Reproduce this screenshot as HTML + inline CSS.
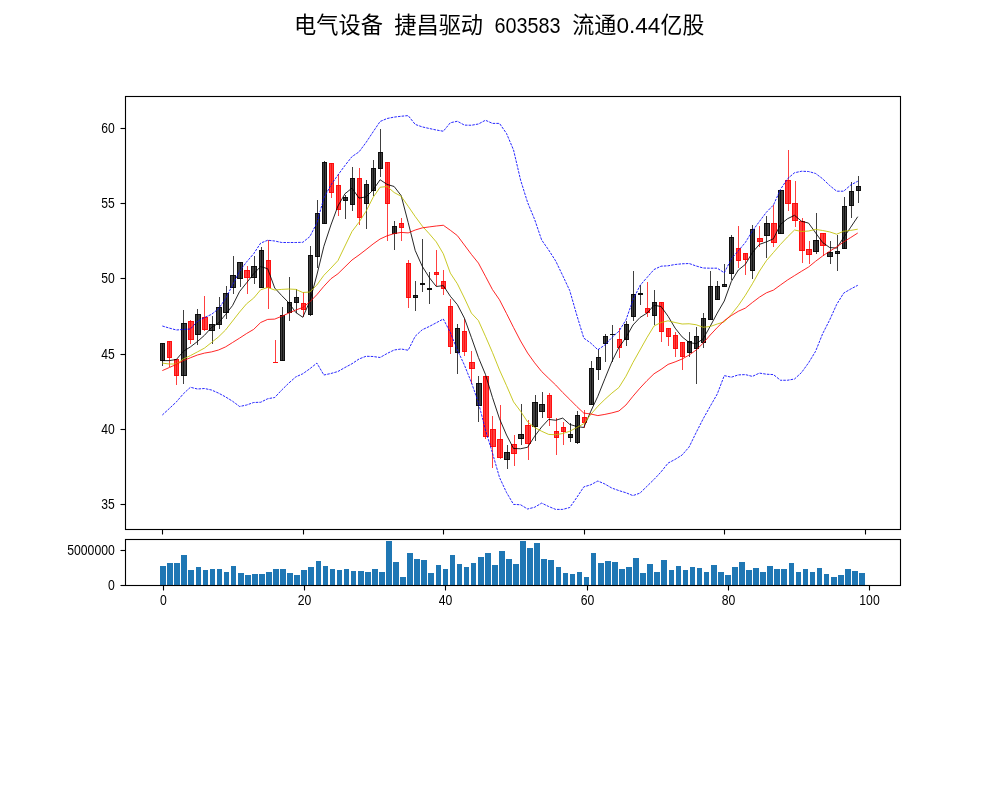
<!DOCTYPE html>
<html lang="zh"><head><meta charset="utf-8"><title>电气设备 捷昌驱动 603583</title>
<style>html,body{margin:0;padding:0;background:#fff}body{width:1000px;height:800px;overflow:hidden}svg{display:block}.t{font-family:"Liberation Sans","Noto Sans CJK SC",sans-serif;fill:#000}.tk{font-size:14.7px}.ti{font-size:22.2px}.ln{fill:none;stroke-width:0.85;stroke-linejoin:round}.ax{stroke:#000;stroke-width:1.11;fill:none}</style></head><body>
<svg width="1000" height="800" viewBox="0 0 1000 800">
<rect width="1000" height="800" fill="#fff"/>
<text class="t ti" x="294.0" y="33.4" textLength="88.9" lengthAdjust="spacingAndGlyphs">电气设备</text>
<text class="t ti" x="394.2" y="33.4" textLength="88.9" lengthAdjust="spacingAndGlyphs">捷昌驱动</text>
<text class="t ti" x="494.4" y="33.4" textLength="66.2" lengthAdjust="spacingAndGlyphs">603583</text>
<text class="t ti" x="572.2" y="33.4" textLength="44.2" lengthAdjust="spacingAndGlyphs">流通</text>
<text class="t ti" x="616.4" y="33.4" textLength="44.0" lengthAdjust="spacingAndGlyphs">0.44</text>
<text class="t ti" x="660.6" y="33.4" textLength="43.8" lengthAdjust="spacingAndGlyphs">亿股</text>
<g id="candles" shape-rendering="crispEdges">
<g fill="#000" fill-opacity=".75"><rect x="162" y="343" width="1" height="23"/><rect x="183" y="310" width="1" height="74"/><rect x="197" y="309" width="1" height="36"/><rect x="212" y="316" width="1" height="28"/><rect x="219" y="297" width="1" height="32"/><rect x="226" y="286" width="1" height="33"/><rect x="233" y="256" width="1" height="38"/><rect x="240" y="262" width="1" height="25"/><rect x="254" y="256" width="1" height="28"/><rect x="261" y="247" width="1" height="41"/><rect x="282" y="307" width="1" height="54"/><rect x="289" y="277" width="1" height="44"/><rect x="296" y="289" width="1" height="24"/><rect x="310" y="246" width="1" height="70"/><rect x="317" y="200" width="1" height="68"/><rect x="324" y="161" width="1" height="63"/><rect x="345" y="195" width="1" height="24"/><rect x="352" y="167" width="1" height="44"/><rect x="366" y="180" width="1" height="49"/><rect x="373" y="160" width="1" height="36"/><rect x="380" y="129" width="1" height="48"/><rect x="394" y="221" width="1" height="29"/><rect x="415" y="281" width="1" height="30"/><rect x="422" y="239" width="1" height="53"/><rect x="429" y="272" width="1" height="32"/><rect x="457" y="324" width="1" height="50"/><rect x="478" y="376" width="1" height="46"/><rect x="507" y="445" width="1" height="24"/><rect x="521" y="404" width="1" height="41"/><rect x="535" y="395" width="1" height="46"/><rect x="542" y="392" width="1" height="26"/><rect x="570" y="423" width="1" height="19"/><rect x="577" y="411" width="1" height="33"/><rect x="591" y="361" width="1" height="44"/><rect x="598" y="349" width="1" height="31"/><rect x="605" y="334" width="1" height="28"/><rect x="612" y="325" width="1" height="37"/><rect x="626" y="321" width="1" height="25"/><rect x="633" y="271" width="1" height="50"/><rect x="640" y="285" width="1" height="20"/><rect x="654" y="290" width="1" height="35"/><rect x="689" y="332" width="1" height="25"/><rect x="696" y="327" width="1" height="57"/><rect x="703" y="313" width="1" height="35"/><rect x="710" y="271" width="1" height="49"/><rect x="717" y="281" width="1" height="19"/><rect x="724" y="264" width="1" height="23"/><rect x="731" y="235" width="1" height="45"/><rect x="752" y="225" width="1" height="54"/><rect x="766" y="216" width="1" height="42"/><rect x="780" y="190" width="1" height="44"/><rect x="816" y="213" width="1" height="41"/><rect x="830" y="241" width="1" height="23"/><rect x="837" y="235" width="1" height="36"/><rect x="844" y="197" width="1" height="52"/><rect x="851" y="182" width="1" height="36"/><rect x="858" y="176" width="1" height="27"/></g>
<g fill="#f00" fill-opacity=".75"><rect x="169" y="341" width="1" height="26"/><rect x="176" y="359" width="1" height="26"/><rect x="190" y="320" width="1" height="24"/><rect x="204" y="296" width="1" height="35"/><rect x="247" y="266" width="1" height="28"/><rect x="268" y="240" width="1" height="69"/><rect x="275" y="340" width="1" height="22"/><rect x="303" y="292" width="1" height="25"/><rect x="331" y="163" width="1" height="35"/><rect x="338" y="174" width="1" height="42"/><rect x="359" y="168" width="1" height="57"/><rect x="387" y="162" width="1" height="79"/><rect x="401" y="218" width="1" height="23"/><rect x="408" y="260" width="1" height="48"/><rect x="436" y="250" width="1" height="36"/><rect x="443" y="270" width="1" height="25"/><rect x="450" y="299" width="1" height="55"/><rect x="464" y="319" width="1" height="37"/><rect x="471" y="351" width="1" height="33"/><rect x="485" y="376" width="1" height="63"/><rect x="492" y="416" width="1" height="52"/><rect x="500" y="405" width="1" height="54"/><rect x="514" y="435" width="1" height="31"/><rect x="528" y="420" width="1" height="40"/><rect x="549" y="393" width="1" height="33"/><rect x="556" y="418" width="1" height="37"/><rect x="563" y="422" width="1" height="23"/><rect x="584" y="410" width="1" height="18"/><rect x="619" y="328" width="1" height="30"/><rect x="647" y="282" width="1" height="35"/><rect x="661" y="302" width="1" height="40"/><rect x="668" y="328" width="1" height="18"/><rect x="675" y="332" width="1" height="25"/><rect x="682" y="342" width="1" height="28"/><rect x="738" y="226" width="1" height="42"/><rect x="745" y="253" width="1" height="22"/><rect x="759" y="226" width="1" height="21"/><rect x="773" y="205" width="1" height="42"/><rect x="788" y="150" width="1" height="61"/><rect x="795" y="181" width="1" height="46"/><rect x="802" y="218" width="1" height="45"/><rect x="809" y="241" width="1" height="23"/><rect x="823" y="233" width="1" height="23"/></g>
<g fill="#000" fill-opacity=".75"><rect x="160" y="343" width="5" height="18"/><rect x="181" y="323" width="6" height="53"/><rect x="195" y="314" width="6" height="21"/><rect x="209" y="324" width="6" height="7"/><rect x="216" y="307" width="6" height="18"/><rect x="223" y="293" width="6" height="20"/><rect x="230" y="275" width="6" height="13"/><rect x="237" y="262" width="6" height="17"/><rect x="251" y="266" width="6" height="12"/><rect x="259" y="250" width="5" height="38"/><rect x="280" y="315" width="5" height="46"/><rect x="287" y="302" width="5" height="11"/><rect x="294" y="297" width="5" height="6"/><rect x="308" y="255" width="5" height="60"/><rect x="315" y="213" width="5" height="44"/><rect x="322" y="162" width="5" height="62"/><rect x="343" y="197" width="5" height="4"/><rect x="350" y="178" width="5" height="27"/><rect x="364" y="184" width="5" height="20"/><rect x="371" y="168" width="5" height="23"/><rect x="378" y="152" width="5" height="17"/><rect x="392" y="226" width="5" height="8"/><rect x="413" y="295" width="5" height="3"/><rect x="420" y="283" width="5" height="2"/><rect x="427" y="288" width="5" height="2"/><rect x="455" y="328" width="5" height="25"/><rect x="476" y="383" width="6" height="23"/><rect x="504" y="452" width="6" height="8"/><rect x="518" y="434" width="6" height="5"/><rect x="532" y="402" width="6" height="25"/><rect x="539" y="404" width="6" height="8"/><rect x="568" y="434" width="5" height="4"/><rect x="575" y="415" width="5" height="28"/><rect x="589" y="368" width="5" height="37"/><rect x="596" y="357" width="5" height="13"/><rect x="603" y="336" width="5" height="8"/><rect x="610" y="334" width="5" height="1"/><rect x="624" y="324" width="5" height="16"/><rect x="631" y="294" width="5" height="23"/><rect x="638" y="293" width="5" height="2"/><rect x="652" y="302" width="5" height="14"/><rect x="687" y="341" width="5" height="12"/><rect x="694" y="336" width="5" height="13"/><rect x="701" y="318" width="5" height="25"/><rect x="708" y="286" width="5" height="34"/><rect x="715" y="286" width="5" height="14"/><rect x="722" y="284" width="5" height="3"/><rect x="729" y="237" width="5" height="37"/><rect x="750" y="229" width="5" height="42"/><rect x="764" y="223" width="6" height="13"/><rect x="778" y="190" width="6" height="44"/><rect x="813" y="240" width="6" height="12"/><rect x="827" y="252" width="6" height="5"/><rect x="835" y="251" width="5" height="3"/><rect x="842" y="206" width="5" height="43"/><rect x="849" y="191" width="5" height="15"/><rect x="856" y="186" width="5" height="5"/></g>
<g fill="#f00" fill-opacity=".75"><rect x="167" y="341" width="5" height="17"/><rect x="174" y="359" width="5" height="17"/><rect x="188" y="321" width="6" height="19"/><rect x="202" y="317" width="6" height="13"/><rect x="244" y="270" width="6" height="8"/><rect x="266" y="260" width="5" height="28"/><rect x="273" y="362" width="5" height="1"/><rect x="301" y="303" width="5" height="7"/><rect x="329" y="163" width="5" height="30"/><rect x="336" y="185" width="5" height="25"/><rect x="357" y="178" width="5" height="40"/><rect x="385" y="162" width="5" height="42"/><rect x="399" y="223" width="5" height="5"/><rect x="406" y="263" width="5" height="35"/><rect x="434" y="272" width="5" height="3"/><rect x="441" y="281" width="5" height="8"/><rect x="448" y="306" width="5" height="41"/><rect x="462" y="331" width="5" height="21"/><rect x="469" y="362" width="6" height="7"/><rect x="483" y="376" width="6" height="61"/><rect x="490" y="429" width="6" height="18"/><rect x="497" y="439" width="6" height="19"/><rect x="511" y="444" width="6" height="10"/><rect x="525" y="425" width="6" height="19"/><rect x="547" y="395" width="5" height="23"/><rect x="554" y="431" width="5" height="7"/><rect x="561" y="427" width="5" height="5"/><rect x="582" y="417" width="5" height="6"/><rect x="617" y="339" width="5" height="9"/><rect x="645" y="308" width="5" height="5"/><rect x="659" y="302" width="5" height="30"/><rect x="666" y="328" width="5" height="9"/><rect x="673" y="335" width="5" height="14"/><rect x="680" y="342" width="5" height="15"/><rect x="736" y="248" width="5" height="13"/><rect x="743" y="253" width="5" height="7"/><rect x="757" y="238" width="6" height="4"/><rect x="771" y="223" width="6" height="20"/><rect x="785" y="180" width="6" height="24"/><rect x="792" y="203" width="6" height="18"/><rect x="799" y="221" width="6" height="30"/><rect x="806" y="249" width="6" height="6"/><rect x="820" y="233" width="6" height="13"/></g>
<g fill="#000" fill-opacity=".75"><path d="M160,343h5v18h-5zM161,344v16h3v-16z"/><path d="M181,323h6v53h-6zM182,324v51h4v-51z"/><path d="M195,314h6v21h-6zM196,315v19h4v-19z"/><path d="M209,324h6v7h-6zM210,325v5h4v-5z"/><path d="M216,307h6v18h-6zM217,308v16h4v-16z"/><path d="M223,293h6v20h-6zM224,294v18h4v-18z"/><path d="M230,275h6v13h-6zM231,276v11h4v-11z"/><path d="M237,262h6v17h-6zM238,263v15h4v-15z"/><path d="M251,266h6v12h-6zM252,267v10h4v-10z"/><path d="M259,250h5v38h-5zM260,251v36h3v-36z"/><path d="M280,315h5v46h-5zM281,316v44h3v-44z"/><path d="M287,302h5v11h-5zM288,303v9h3v-9z"/><path d="M294,297h5v6h-5zM295,298v4h3v-4z"/><path d="M308,255h5v60h-5zM309,256v58h3v-58z"/><path d="M315,213h5v44h-5zM316,214v42h3v-42z"/><path d="M322,162h5v62h-5zM323,163v60h3v-60z"/><path d="M343,197h5v4h-5zM344,198v2h3v-2z"/><path d="M350,178h5v27h-5zM351,179v25h3v-25z"/><path d="M364,184h5v20h-5zM365,185v18h3v-18z"/><path d="M371,168h5v23h-5zM372,169v21h3v-21z"/><path d="M378,152h5v17h-5zM379,153v15h3v-15z"/><path d="M392,226h5v8h-5zM393,227v6h3v-6z"/><path d="M413,295h5v3h-5zM414,296v1h3v-1z"/><rect x="420" y="283" width="5" height="2"/><rect x="427" y="288" width="5" height="2"/><path d="M455,328h5v25h-5zM456,329v23h3v-23z"/><path d="M476,383h6v23h-6zM477,384v21h4v-21z"/><path d="M504,452h6v8h-6zM505,453v6h4v-6z"/><path d="M518,434h6v5h-6zM519,435v3h4v-3z"/><path d="M532,402h6v25h-6zM533,403v23h4v-23z"/><path d="M539,404h6v8h-6zM540,405v6h4v-6z"/><path d="M568,434h5v4h-5zM569,435v2h3v-2z"/><path d="M575,415h5v28h-5zM576,416v26h3v-26z"/><path d="M589,368h5v37h-5zM590,369v35h3v-35z"/><path d="M596,357h5v13h-5zM597,358v11h3v-11z"/><path d="M603,336h5v8h-5zM604,337v6h3v-6z"/><rect x="610" y="334" width="5" height="1"/><path d="M624,324h5v16h-5zM625,325v14h3v-14z"/><path d="M631,294h5v23h-5zM632,295v21h3v-21z"/><rect x="638" y="293" width="5" height="2"/><path d="M652,302h5v14h-5zM653,303v12h3v-12z"/><path d="M687,341h5v12h-5zM688,342v10h3v-10z"/><path d="M694,336h5v13h-5zM695,337v11h3v-11z"/><path d="M701,318h5v25h-5zM702,319v23h3v-23z"/><path d="M708,286h5v34h-5zM709,287v32h3v-32z"/><path d="M715,286h5v14h-5zM716,287v12h3v-12z"/><path d="M722,284h5v3h-5zM723,285v1h3v-1z"/><path d="M729,237h5v37h-5zM730,238v35h3v-35z"/><path d="M750,229h5v42h-5zM751,230v40h3v-40z"/><path d="M764,223h6v13h-6zM765,224v11h4v-11z"/><path d="M778,190h6v44h-6zM779,191v42h4v-42z"/><path d="M813,240h6v12h-6zM814,241v10h4v-10z"/><path d="M827,252h6v5h-6zM828,253v3h4v-3z"/><path d="M835,251h5v3h-5zM836,252v1h3v-1z"/><path d="M842,206h5v43h-5zM843,207v41h3v-41z"/><path d="M849,191h5v15h-5zM850,192v13h3v-13z"/><path d="M856,186h5v5h-5zM857,187v3h3v-3z"/></g>
<g fill="#f00" fill-opacity=".75"><path d="M167,341h5v17h-5zM168,342v15h3v-15z"/><path d="M174,359h5v17h-5zM175,360v15h3v-15z"/><path d="M188,321h6v19h-6zM189,322v17h4v-17z"/><path d="M202,317h6v13h-6zM203,318v11h4v-11z"/><path d="M244,270h6v8h-6zM245,271v6h4v-6z"/><path d="M266,260h5v28h-5zM267,261v26h3v-26z"/><rect x="273" y="362" width="5" height="1"/><path d="M301,303h5v7h-5zM302,304v5h3v-5z"/><path d="M329,163h5v30h-5zM330,164v28h3v-28z"/><path d="M336,185h5v25h-5zM337,186v23h3v-23z"/><path d="M357,178h5v40h-5zM358,179v38h3v-38z"/><path d="M385,162h5v42h-5zM386,163v40h3v-40z"/><path d="M399,223h5v5h-5zM400,224v3h3v-3z"/><path d="M406,263h5v35h-5zM407,264v33h3v-33z"/><path d="M434,272h5v3h-5zM435,273v1h3v-1z"/><path d="M441,281h5v8h-5zM442,282v6h3v-6z"/><path d="M448,306h5v41h-5zM449,307v39h3v-39z"/><path d="M462,331h5v21h-5zM463,332v19h3v-19z"/><path d="M469,362h6v7h-6zM470,363v5h4v-5z"/><path d="M483,376h6v61h-6zM484,377v59h4v-59z"/><path d="M490,429h6v18h-6zM491,430v16h4v-16z"/><path d="M497,439h6v19h-6zM498,440v17h4v-17z"/><path d="M511,444h6v10h-6zM512,445v8h4v-8z"/><path d="M525,425h6v19h-6zM526,426v17h4v-17z"/><path d="M547,395h5v23h-5zM548,396v21h3v-21z"/><path d="M554,431h5v7h-5zM555,432v5h3v-5z"/><path d="M561,427h5v5h-5zM562,428v3h3v-3z"/><path d="M582,417h5v6h-5zM583,418v4h3v-4z"/><path d="M617,339h5v9h-5zM618,340v7h3v-7z"/><path d="M645,308h5v5h-5zM646,309v3h3v-3z"/><path d="M659,302h5v30h-5zM660,303v28h3v-28z"/><path d="M666,328h5v9h-5zM667,329v7h3v-7z"/><path d="M673,335h5v14h-5zM674,336v12h3v-12z"/><path d="M680,342h5v15h-5zM681,343v13h3v-13z"/><path d="M736,248h5v13h-5zM737,249v11h3v-11z"/><path d="M743,253h5v7h-5zM744,254v5h3v-5z"/><path d="M757,238h6v4h-6zM758,239v2h4v-2z"/><path d="M771,223h6v20h-6zM772,224v18h4v-18z"/><path d="M785,180h6v24h-6zM786,181v22h4v-22z"/><path d="M792,203h6v18h-6zM793,204v16h4v-16z"/><path d="M799,221h6v30h-6zM800,222v28h4v-28z"/><path d="M806,249h6v6h-6zM807,250v4h4v-4z"/><path d="M820,233h6v13h-6zM821,234v11h4v-11z"/></g>
</g>
<path class="ln" stroke="#000" d="M162.33,360.60 L169.35,360.60 L176.38,359.50 L183.40,351.25 L190.43,346.90 L197.45,341.50 L204.48,335.30 L211.50,327.50 L218.53,323.00 L225.55,314.50 L232.57,305.50 L239.60,291.50 L246.62,282.80 L253.65,273.75 L260.67,266.50 L267.70,268.75 L274.72,288.00 L281.74,295.60 L288.77,302.75 L295.79,312.50 L302.82,317.25 L309.84,301.25 L316.87,275.00 L323.89,246.25 L330.92,225.00 L337.94,206.00 L344.96,193.75 L351.99,188.10 L359.01,198.10 L366.04,196.90 L373.06,190.00 L380.09,179.75 L387.11,184.40 L394.14,186.50 L401.16,195.60 L408.18,222.50 L415.21,250.50 L422.23,266.25 L429.26,277.50 L436.28,286.50 L443.31,285.60 L450.33,296.25 L457.35,304.60 L464.38,318.10 L471.40,337.50 L478.43,357.50 L485.45,374.40 L492.48,397.50 L499.50,418.75 L506.53,435.00 L513.55,448.50 L520.57,448.75 L527.60,447.25 L534.62,436.25 L541.65,427.00 L548.67,419.40 L555.70,420.25 L562.72,418.10 L569.75,424.40 L576.77,426.50 L583.79,427.50 L590.82,411.25 L597.84,396.25 L604.87,378.75 L611.89,361.50 L618.92,347.50 L625.94,337.50 L632.96,325.00 L639.99,317.50 L647.01,313.10 L654.04,305.25 L661.06,306.50 L668.09,316.25 L675.11,328.10 L682.14,336.90 L689.16,342.50 L696.18,343.75 L703.21,338.75 L710.23,326.25 L717.26,313.10 L724.28,301.00 L731.31,281.50 L738.33,270.00 L745.36,264.40 L752.38,252.50 L759.40,244.40 L766.43,241.90 L773.45,238.75 L780.48,224.40 L787.50,218.75 L794.53,215.30 L801.55,221.25 L808.57,223.10 L815.60,232.80 L822.62,242.50 L829.65,247.50 L836.67,248.10 L843.70,237.50 L850.72,227.20 L857.75,216.70"/>
<path class="ln" stroke="#bfbf00" d="M162.33,363.10 L169.35,364.00 L176.38,364.00 L183.40,359.00 L190.43,355.60 L197.45,351.90 L204.48,348.10 L211.50,342.50 L218.53,336.90 L225.55,330.00 L232.57,321.00 L239.60,312.00 L246.62,303.75 L253.65,298.10 L260.67,289.75 L267.70,287.50 L274.72,290.00 L281.74,289.40 L288.77,289.00 L295.79,289.40 L302.82,292.50 L309.84,292.00 L316.87,285.00 L323.89,275.30 L330.92,268.10 L337.94,260.60 L344.96,246.00 L351.99,231.50 L359.01,222.20 L366.04,211.25 L373.06,197.50 L380.09,187.25 L387.11,186.50 L394.14,192.50 L401.16,196.25 L408.18,206.25 L415.21,216.50 L422.23,226.00 L429.26,233.75 L436.28,241.90 L443.31,253.75 L450.33,273.10 L457.35,283.75 L464.38,298.00 L471.40,313.10 L478.43,320.60 L485.45,336.25 L492.48,352.50 L499.50,370.00 L506.53,385.60 L513.55,401.90 L520.57,411.25 L527.60,421.90 L534.62,427.50 L541.65,431.25 L548.67,434.40 L555.70,434.75 L562.72,433.50 L569.75,431.25 L576.77,427.50 L583.79,423.75 L590.82,414.40 L597.84,406.25 L604.87,399.40 L611.89,393.10 L618.92,387.50 L625.94,376.25 L632.96,362.50 L639.99,350.00 L647.01,337.50 L654.04,326.00 L661.06,322.50 L668.09,320.80 L675.11,322.50 L682.14,324.00 L689.16,323.75 L696.18,324.75 L703.21,327.25 L710.23,326.50 L717.26,324.00 L724.28,321.90 L731.31,314.40 L738.33,305.60 L745.36,295.30 L752.38,283.75 L759.40,271.25 L766.43,260.60 L773.45,252.50 L780.48,244.40 L787.50,236.90 L794.53,230.00 L801.55,231.50 L808.57,231.00 L815.60,229.40 L822.62,230.50 L829.65,231.90 L836.67,234.20 L843.70,231.25 L850.72,230.40 L857.75,229.20"/>
<path class="ln" stroke="#f00" d="M162.33,370.60 L169.35,367.50 L176.38,364.40 L183.40,360.60 L190.43,357.75 L197.45,355.00 L204.48,353.10 L211.50,351.90 L218.53,350.00 L225.55,346.90 L232.57,342.50 L239.60,338.10 L246.62,333.50 L253.65,329.40 L260.67,322.50 L267.70,319.40 L274.72,319.10 L281.74,316.25 L288.77,313.10 L295.79,310.00 L302.82,307.50 L309.84,301.90 L316.87,294.70 L323.89,286.25 L330.92,278.75 L337.94,273.75 L344.96,266.90 L351.99,260.00 L359.01,255.00 L366.04,249.60 L373.06,244.00 L380.09,239.00 L387.11,235.80 L394.14,233.60 L401.16,232.40 L408.18,232.90 L415.21,230.00 L422.23,227.90 L429.26,226.90 L436.28,226.00 L443.31,225.25 L450.33,230.25 L457.35,235.60 L464.38,245.00 L471.40,254.40 L478.43,263.10 L485.45,276.25 L492.48,289.60 L499.50,299.80 L506.53,313.50 L513.55,327.50 L520.57,341.00 L527.60,353.00 L534.62,362.80 L541.65,371.50 L548.67,378.30 L555.70,385.00 L562.72,392.50 L569.75,399.40 L576.77,406.50 L583.79,413.10 L590.82,414.00 L597.84,415.60 L604.87,414.40 L611.89,412.90 L618.92,411.00 L625.94,405.00 L632.96,396.25 L639.99,388.10 L647.01,380.60 L654.04,373.75 L661.06,369.40 L668.09,364.40 L675.11,361.90 L682.14,359.00 L689.16,355.00 L696.18,350.00 L703.21,343.10 L710.23,335.00 L717.26,327.50 L724.28,320.60 L731.31,315.60 L738.33,311.25 L745.36,308.10 L752.38,302.50 L759.40,297.20 L766.43,292.80 L773.45,290.10 L780.48,285.00 L787.50,280.00 L794.53,275.60 L801.55,271.25 L808.57,267.00 L815.60,261.25 L822.62,256.00 L829.65,251.25 L836.67,246.90 L843.70,241.90 L850.72,237.50 L857.75,233.00"/>
<path class="ln" stroke="#00f" stroke-dasharray="2.57 1.11" d="M162.33,326.00 L169.35,328.10 L176.38,330.00 L183.40,329.40 L190.43,329.00 L197.45,321.25 L204.48,317.50 L211.50,314.40 L218.53,308.75 L225.55,298.75 L232.57,285.00 L239.60,271.25 L246.62,261.90 L253.65,253.75 L260.67,243.10 L267.70,240.25 L274.72,241.00 L281.74,242.50 L288.77,242.50 L295.79,242.50 L302.82,242.30 L309.84,236.60 L316.87,223.00 L323.89,198.00 L330.92,185.00 L337.94,175.00 L344.96,165.50 L351.99,156.60 L359.01,151.90 L366.04,142.50 L373.06,131.90 L380.09,121.50 L387.11,118.50 L394.14,117.10 L401.16,116.25 L408.18,115.60 L415.21,124.40 L422.23,126.90 L429.26,128.50 L436.28,130.00 L443.31,131.25 L450.33,122.75 L457.35,121.25 L464.38,125.10 L471.40,125.25 L478.43,124.00 L485.45,120.25 L492.48,123.40 L499.50,123.40 L506.53,133.50 L513.55,150.00 L520.57,180.00 L527.60,202.50 L534.62,219.40 L541.65,240.00 L548.67,250.00 L555.70,261.00 L562.72,275.60 L569.75,290.60 L576.77,315.00 L583.79,338.10 L590.82,343.10 L597.84,349.75 L604.87,345.00 L611.89,337.50 L618.92,331.25 L625.94,320.00 L632.96,300.00 L639.99,285.50 L647.01,277.50 L654.04,269.50 L661.06,266.20 L668.09,265.80 L675.11,264.50 L682.14,263.80 L689.16,263.50 L696.18,266.00 L703.21,268.00 L710.23,268.20 L717.26,268.20 L724.28,272.80 L731.31,258.80 L738.33,250.80 L745.36,242.50 L752.38,231.00 L759.40,221.50 L766.43,212.20 L773.45,205.00 L780.48,189.40 L787.50,178.75 L794.53,172.75 L801.55,171.25 L808.57,171.50 L815.60,173.50 L822.62,178.75 L829.65,185.50 L836.67,191.20 L843.70,191.20 L850.72,185.00 L857.75,181.25"/>
<path class="ln" stroke="#00f" stroke-dasharray="2.57 1.11" d="M162.33,415.00 L169.35,408.50 L176.38,401.90 L183.40,393.75 L190.43,387.25 L197.45,389.00 L204.48,388.50 L211.50,390.00 L218.53,393.10 L225.55,396.90 L232.57,401.25 L239.60,406.50 L246.62,405.00 L253.65,402.50 L260.67,402.25 L267.70,398.75 L274.72,397.50 L281.74,390.00 L288.77,383.10 L295.79,376.90 L302.82,373.75 L309.84,368.75 L316.87,363.10 L323.89,375.00 L330.92,373.50 L337.94,371.50 L344.96,367.50 L351.99,363.75 L359.01,359.00 L366.04,356.25 L373.06,356.50 L380.09,357.50 L387.11,353.50 L394.14,350.00 L401.16,349.00 L408.18,350.25 L415.21,336.25 L422.23,329.75 L429.26,326.50 L436.28,322.75 L443.31,319.00 L450.33,332.50 L457.35,350.00 L464.38,365.00 L471.40,382.50 L478.43,402.50 L485.45,430.00 L492.48,453.00 L499.50,477.50 L506.53,492.50 L513.55,504.40 L520.57,504.75 L527.60,509.00 L534.62,507.25 L541.65,503.10 L548.67,506.50 L555.70,509.40 L562.72,509.40 L569.75,507.50 L576.77,497.50 L583.79,486.90 L590.82,484.75 L597.84,481.00 L604.87,484.00 L611.89,488.10 L618.92,490.60 L625.94,492.75 L632.96,495.60 L639.99,493.10 L647.01,486.25 L654.04,479.40 L661.06,471.90 L668.09,463.10 L675.11,459.40 L682.14,455.00 L689.16,446.90 L696.18,432.50 L703.21,418.75 L710.23,406.25 L717.26,394.00 L724.28,375.60 L731.31,377.20 L738.33,374.90 L745.36,374.60 L752.38,376.40 L759.40,373.10 L766.43,374.20 L773.45,374.60 L780.48,380.25 L787.50,380.25 L794.53,379.00 L801.55,372.50 L808.57,362.80 L815.60,351.25 L822.62,333.75 L829.65,320.00 L836.67,304.40 L843.70,293.10 L850.72,289.00 L857.75,285.30"/>
<rect class="ax" x="125.5" y="96.5" width="775" height="433"/>
<line class="ax" x1="120.5" x2="125.5" y1="128.5" y2="128.5"/>
<text class="t tk" x="114.8" y="133.2" text-anchor="end" textLength="13.5" lengthAdjust="spacingAndGlyphs">60</text>
<line class="ax" x1="120.5" x2="125.5" y1="203.5" y2="203.5"/>
<text class="t tk" x="114.8" y="208.2" text-anchor="end" textLength="13.5" lengthAdjust="spacingAndGlyphs">55</text>
<line class="ax" x1="120.5" x2="125.5" y1="278.5" y2="278.5"/>
<text class="t tk" x="114.8" y="283.2" text-anchor="end" textLength="13.5" lengthAdjust="spacingAndGlyphs">50</text>
<line class="ax" x1="120.5" x2="125.5" y1="354.5" y2="354.5"/>
<text class="t tk" x="114.8" y="359.2" text-anchor="end" textLength="13.5" lengthAdjust="spacingAndGlyphs">45</text>
<line class="ax" x1="120.5" x2="125.5" y1="429.5" y2="429.5"/>
<text class="t tk" x="114.8" y="434.2" text-anchor="end" textLength="13.5" lengthAdjust="spacingAndGlyphs">40</text>
<line class="ax" x1="120.5" x2="125.5" y1="504.5" y2="504.5"/>
<text class="t tk" x="114.8" y="509.2" text-anchor="end" textLength="13.5" lengthAdjust="spacingAndGlyphs">35</text>
<line class="ax" x1="162.5" x2="162.5" y1="529.5" y2="534.5"/>
<line class="ax" x1="303.5" x2="303.5" y1="529.5" y2="534.5"/>
<line class="ax" x1="443.5" x2="443.5" y1="529.5" y2="534.5"/>
<line class="ax" x1="584.5" x2="584.5" y1="529.5" y2="534.5"/>
<line class="ax" x1="724.5" x2="724.5" y1="529.5" y2="534.5"/>
<line class="ax" x1="865.5" x2="865.5" y1="529.5" y2="534.5"/>
<g id="vol" fill="#1f77b4" shape-rendering="crispEdges">
<rect x="160" y="566" width="6" height="19"/>
<rect x="167" y="563" width="6" height="22"/>
<rect x="174" y="563" width="6" height="22"/>
<rect x="181" y="555" width="6" height="30"/>
<rect x="188" y="570" width="6" height="15"/>
<rect x="196" y="567" width="5" height="18"/>
<rect x="203" y="570" width="5" height="15"/>
<rect x="210" y="569" width="5" height="16"/>
<rect x="217" y="569" width="5" height="16"/>
<rect x="224" y="572" width="5" height="13"/>
<rect x="231" y="566" width="5" height="19"/>
<rect x="238" y="573" width="6" height="12"/>
<rect x="245" y="575" width="6" height="10"/>
<rect x="252" y="574" width="6" height="11"/>
<rect x="259" y="574" width="6" height="11"/>
<rect x="266" y="572" width="6" height="13"/>
<rect x="273" y="569" width="6" height="16"/>
<rect x="280" y="569" width="6" height="16"/>
<rect x="287" y="573" width="6" height="12"/>
<rect x="294" y="575" width="6" height="10"/>
<rect x="301" y="570" width="6" height="15"/>
<rect x="308" y="567" width="6" height="18"/>
<rect x="316" y="561" width="5" height="24"/>
<rect x="323" y="566" width="5" height="19"/>
<rect x="330" y="569" width="5" height="16"/>
<rect x="337" y="570" width="5" height="15"/>
<rect x="344" y="569" width="5" height="16"/>
<rect x="351" y="571" width="5" height="14"/>
<rect x="358" y="571" width="6" height="14"/>
<rect x="365" y="572" width="6" height="13"/>
<rect x="372" y="569" width="6" height="16"/>
<rect x="379" y="572" width="6" height="13"/>
<rect x="386" y="541" width="6" height="44"/>
<rect x="393" y="562" width="6" height="23"/>
<rect x="400" y="577" width="6" height="8"/>
<rect x="407" y="553" width="6" height="32"/>
<rect x="414" y="559" width="6" height="26"/>
<rect x="421" y="560" width="6" height="25"/>
<rect x="428" y="573" width="6" height="12"/>
<rect x="436" y="565" width="5" height="20"/>
<rect x="443" y="569" width="5" height="16"/>
<rect x="450" y="555" width="5" height="30"/>
<rect x="457" y="564" width="5" height="21"/>
<rect x="464" y="567" width="5" height="18"/>
<rect x="471" y="563" width="5" height="22"/>
<rect x="478" y="557" width="6" height="28"/>
<rect x="485" y="553" width="6" height="32"/>
<rect x="492" y="565" width="6" height="20"/>
<rect x="499" y="551" width="6" height="34"/>
<rect x="506" y="559" width="6" height="26"/>
<rect x="513" y="564" width="6" height="21"/>
<rect x="520" y="541" width="6" height="44"/>
<rect x="527" y="548" width="6" height="37"/>
<rect x="534" y="543" width="6" height="42"/>
<rect x="541" y="559" width="6" height="26"/>
<rect x="548" y="560" width="6" height="25"/>
<rect x="556" y="567" width="5" height="18"/>
<rect x="563" y="573" width="5" height="12"/>
<rect x="570" y="574" width="5" height="11"/>
<rect x="577" y="572" width="5" height="13"/>
<rect x="584" y="577" width="5" height="8"/>
<rect x="591" y="553" width="5" height="32"/>
<rect x="598" y="563" width="6" height="22"/>
<rect x="605" y="561" width="6" height="24"/>
<rect x="612" y="562" width="6" height="23"/>
<rect x="619" y="569" width="6" height="16"/>
<rect x="626" y="567" width="6" height="18"/>
<rect x="633" y="558" width="6" height="27"/>
<rect x="640" y="573" width="6" height="12"/>
<rect x="647" y="564" width="6" height="21"/>
<rect x="654" y="572" width="6" height="13"/>
<rect x="661" y="560" width="6" height="25"/>
<rect x="669" y="570" width="5" height="15"/>
<rect x="676" y="566" width="5" height="19"/>
<rect x="683" y="570" width="5" height="15"/>
<rect x="690" y="567" width="5" height="18"/>
<rect x="697" y="568" width="5" height="17"/>
<rect x="704" y="572" width="5" height="13"/>
<rect x="711" y="565" width="6" height="20"/>
<rect x="718" y="572" width="6" height="13"/>
<rect x="725" y="575" width="6" height="10"/>
<rect x="732" y="567" width="6" height="18"/>
<rect x="739" y="562" width="6" height="23"/>
<rect x="746" y="570" width="6" height="15"/>
<rect x="753" y="568" width="6" height="17"/>
<rect x="760" y="572" width="6" height="13"/>
<rect x="767" y="566" width="6" height="19"/>
<rect x="774" y="569" width="6" height="16"/>
<rect x="781" y="569" width="6" height="16"/>
<rect x="789" y="563" width="5" height="22"/>
<rect x="796" y="572" width="5" height="13"/>
<rect x="803" y="569" width="5" height="16"/>
<rect x="810" y="572" width="5" height="13"/>
<rect x="817" y="568" width="5" height="17"/>
<rect x="824" y="574" width="5" height="11"/>
<rect x="831" y="577" width="6" height="8"/>
<rect x="838" y="575" width="6" height="10"/>
<rect x="845" y="569" width="6" height="16"/>
<rect x="852" y="571" width="6" height="14"/>
<rect x="859" y="573" width="6" height="12"/>
</g>
<rect class="ax" x="125.5" y="539.5" width="775" height="46"/>
<line class="ax" x1="120.5" x2="125.5" y1="585.5" y2="585.5"/>
<text class="t tk" x="114.8" y="590.2" text-anchor="end" textLength="6.8" lengthAdjust="spacingAndGlyphs">0</text>
<line class="ax" x1="120.5" x2="125.5" y1="550.5" y2="550.5"/>
<text class="t tk" x="114.8" y="555.2" text-anchor="end" textLength="47.6" lengthAdjust="spacingAndGlyphs">5000000</text>
<line class="ax" x1="163.5" x2="163.5" y1="585.5" y2="590.5"/>
<text class="t tk" x="163.5" y="605.2" text-anchor="middle" textLength="6.8" lengthAdjust="spacingAndGlyphs">0</text>
<line class="ax" x1="304.5" x2="304.5" y1="585.5" y2="590.5"/>
<text class="t tk" x="304.5" y="605.2" text-anchor="middle" textLength="13.6" lengthAdjust="spacingAndGlyphs">20</text>
<line class="ax" x1="445.5" x2="445.5" y1="585.5" y2="590.5"/>
<text class="t tk" x="445.5" y="605.2" text-anchor="middle" textLength="13.6" lengthAdjust="spacingAndGlyphs">40</text>
<line class="ax" x1="587.5" x2="587.5" y1="585.5" y2="590.5"/>
<text class="t tk" x="587.5" y="605.2" text-anchor="middle" textLength="13.6" lengthAdjust="spacingAndGlyphs">60</text>
<line class="ax" x1="728.5" x2="728.5" y1="585.5" y2="590.5"/>
<text class="t tk" x="728.5" y="605.2" text-anchor="middle" textLength="13.6" lengthAdjust="spacingAndGlyphs">80</text>
<line class="ax" x1="869.5" x2="869.5" y1="585.5" y2="590.5"/>
<text class="t tk" x="869.5" y="605.2" text-anchor="middle" textLength="20.4" lengthAdjust="spacingAndGlyphs">100</text>
</svg></body></html>
